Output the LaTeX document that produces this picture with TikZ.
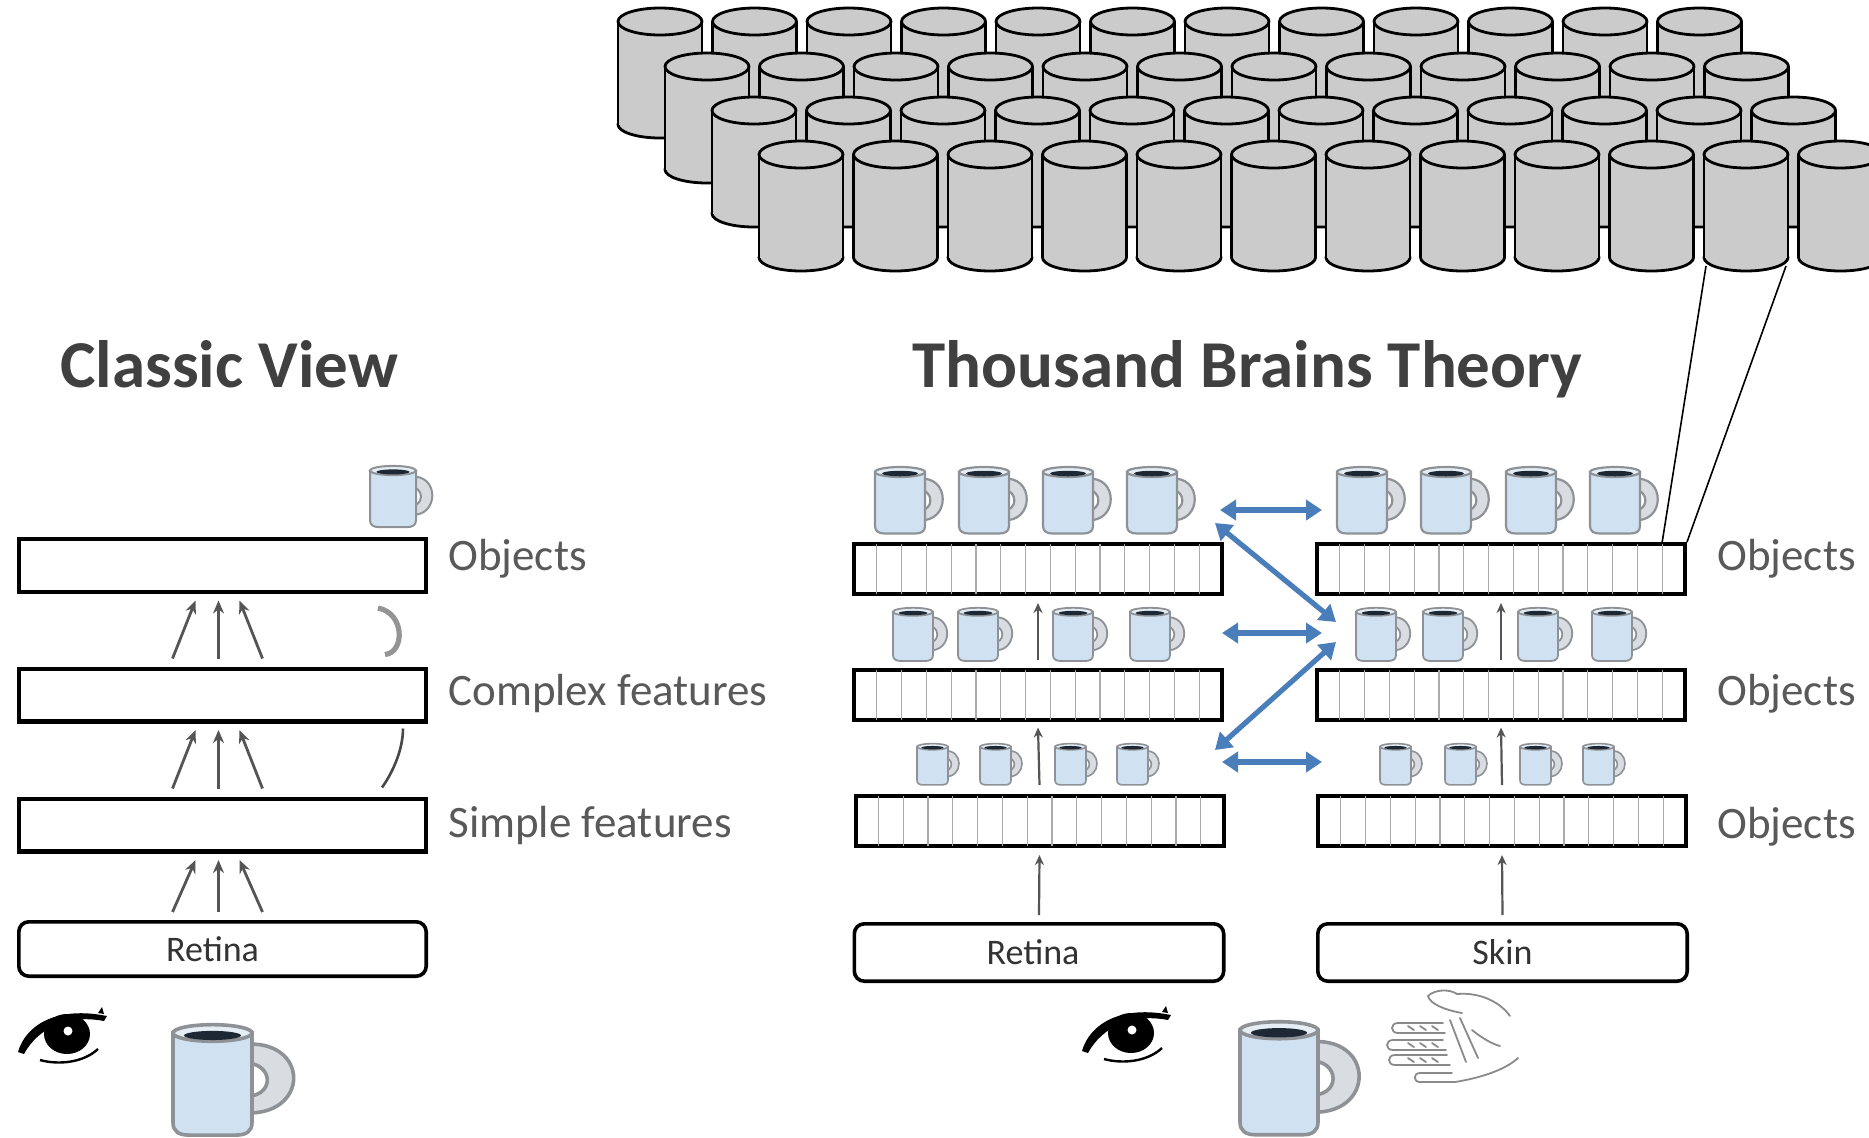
\documentclass[tikz,border=0pt]{standalone}
\usepackage{fontspec}
\setmainfont{Carlito}
\usetikzlibrary{arrows.meta,calc}

\definecolor{titlegray}{HTML}{404040}
\definecolor{labelgray}{HTML}{595959}
\definecolor{linkblue}{HTML}{4A7EBB}
\definecolor{cylfill}{HTML}{CBCBCB}
\definecolor{mugbody}{HTML}{D0E2F1}
\definecolor{mugline}{HTML}{8E9296}
\definecolor{handlefill}{HTML}{D9DDE2}
\definecolor{rimfill}{HTML}{E6EEF5}
\definecolor{coffee}{HTML}{1E2835}
\definecolor{stripegray}{HTML}{ABABAB}
\definecolor{arrowgray}{HTML}{555555}
\definecolor{handgray}{HTML}{8A8A8A}

\tikzset{
  % #1: how far the handle's control points reach to the right
  pics/mug/.style={code={
    \filldraw[fill=handlefill, draw=mugline]
      (0.86,0.26) .. controls (#1,0.16) and (#1,1.16) .. (0.86,1.08)
      -- (0.86,0.88) .. controls ({0.5*(#1+0.86)},0.93) and ({0.5*(#1+0.86)},0.45) .. (0.86,0.48) -- cycle;
    \filldraw[fill=mugbody, draw=mugline]
      (0,0.12) -- (0,1.20) .. controls (0,1.31) and (0.08,1.35) .. (0.2,1.35)
      -- (0.8,1.35) .. controls (0.92,1.35) and (1,1.31) .. (1,1.20) -- (1,0.12) -- cycle;
    \filldraw[fill=rimfill, draw=mugline] (0.5,0.12) ellipse[x radius=0.5, y radius=0.1];
    \fill[coffee] (0.5,0.15) ellipse[x radius=0.36, y radius=0.055];
  }},
  pics/mug/.default=1.52,
  pics/eye/.style={code={
    \fill[black] (49,26) ellipse[x radius=23, y radius=20];
    \fill[black] (0,44) .. controls (8,16) and (40,-2) .. (89,8)
      -- (86,13) .. controls (50,6) and (20,20) .. (6,46) -- cycle;
    \fill[black] (80,5) -- (84,-1) -- (86,6) -- cycle;
    \fill[white] (50,23) circle[radius=4.5];
    \draw[black, line width=1.2pt] (22,52) .. controls (40,57) and (65,55) .. (80,41);
  }}
}

\begin{document}
\begin{tikzpicture}[x=0.5pt, y=-0.5pt,
  headline/.style={text=titlegray, font=\fontsize{33.5}{40}\selectfont\bfseries, inner sep=0pt, anchor=base west},
  lyrlabel/.style={text=labelgray, font=\fontsize{22.5}{27}\selectfont, inner sep=0pt, anchor=base west},
  plainlayer/.style={draw=black, line width=2.2pt, minimum width=203.3pt, minimum height=26.3pt, inner sep=0pt},
  stripelayer/.style={draw=black, line width=2pt, minimum width=184pt, minimum height=25pt, inner sep=0pt},
  sensebox/.style={draw=black, line width=1.8pt, rounded corners=5pt, inner sep=0pt,
    text=black!80, font=\fontsize{18}{22}\selectfont},
  stripe/.style={stripegray, line width=0.6pt},
  fanarrow/.style={arrowgray, line width=1.4pt, -{Stealth[length=6.5pt, width=5.5pt]}},
  uparrow/.style={arrowgray, line width=1.1pt, -{Stealth[length=5pt, width=4.5pt]}},
  linkarrow/.style={linkblue, line width=2.6pt, {Triangle[length=8pt, width=10pt]}-{Triangle[length=8pt, width=10pt]}},
  cyl/.style={draw=black, line width=1.4pt, fill=cylfill},
  zoomline/.style={black, line width=0.8pt}
]
\useasboundingbox (0,0) rectangle (1869,1137);
\fill[white] (0,0) rectangle (1869,1137);

% ---------- cortical columns, back row first ----------
\begin{scope}
  \clip (0,0) rectangle (1869,1137);
  \foreach \xs/\yt in {660/21.5, 707/66.5, 754/110.5, 801/154.5} {
    \foreach \i in {0,...,11} {
      \pgfmathsetmacro\cx{\xs+\i*94.5}
      \pgfmathsetmacro\yb{\yt+103}
      \filldraw[cyl] (\cx,\yb) ellipse[x radius=42, y radius=13.5];
      \fill[cylfill] (\cx-41.3,\yt) rectangle (\cx+41.3,\yb);
      \draw[cyl] (\cx-42,\yt) -- (\cx-42,\yb);
      \draw[cyl] (\cx+42,\yt) -- (\cx+42,\yb);
      \filldraw[cyl] (\cx,\yt) ellipse[x radius=42, y radius=13.5];
    }
  }
\end{scope}
\coordinate (colL) at (1706,266);
\coordinate (colR) at (1786,266);

% ---------- titles ----------
\node[headline] (tclassic) at (60,387) {Classic View};
\node[headline] (ttbt) at (912,387) {Thousand Brains Theory};

% ---------- classic view ----------
\node[plainlayer] (cvO) at (222.5,565.5) {};
\node[plainlayer] (cvC) at (222.5,695) {};
\node[plainlayer] (cvS) at (222.5,825) {};
\node[sensebox, minimum width=203.7pt, minimum height=27.2pt] (cvR) at (222.5,949) {\hspace*{-10pt}Retina};

\node[lyrlabel] (lbO) at (448,570) {Objects};
\node[lyrlabel] (lbC) at (448,705) {Complex features};
\node[lyrlabel] (lbS) at (448,837) {Simple features};

\foreach \lo/\hi in {cvC/cvO, cvS/cvC, cvR/cvS} {
  \draw[fanarrow] ($(\lo.north)+(-50,-8)$) -- ($(\hi.south)+(-27,6.5)$);
  \draw[fanarrow] ($(\lo.north)+(-4,-8)$) -- ($(\hi.south)+(-4,6.5)$);
  \draw[fanarrow] ($(\lo.north)+(40,-8)$) -- ($(\hi.south)+(17,6.5)$);
}

% feedback arcs at the right end of the stack
\draw[black!42, line width=2.6pt] ($(cvO.south east)+(-50,14)$)
  .. controls +(27,5) and +(20,-2) .. ($(cvC.north east)+(-43,-12)$);
\draw[black!72, line width=1.3pt] ($(cvC.south east)+(-25,5)$)
  .. controls +(0,22) and +(10,-14) .. ($(cvS.north east)+(-46,-9)$);

\pic[scale=46, line width=1pt] at (370,465) {mug};
\pic at (18,1008) {eye};
\pic[xscale=79, yscale=83, line width=1.8pt] at (173,1023) {mug=1.75};

% ---------- thousand brains theory ----------
\node[stripelayer] (lO) at (1038,569) {};
\node[stripelayer] (lM) at (1038,694.5) {};
\node[stripelayer] (lB) at (1039.5,821) {};
\node[stripelayer] (rO) at (1501,569) {};
\node[stripelayer] (rM) at (1501,694.5) {};
\node[stripelayer] (rB) at (1502,821) {};
\foreach \n in {lO,lM,lB,rO,rM,rB} {
  \foreach \k in {1,...,14} {
    \draw[stripe] ($(\n.south west)!\k/15!(\n.south east)+(0,-2)$) -- ($(\n.north west)!\k/15!(\n.north east)+(0,2)$);
  }
}
\node[sensebox, minimum width=184.7pt, minimum height=28.7pt] (ret) at (1039,952.5) {\hspace*{-6pt}Retina};
\node[sensebox, minimum width=184.7pt, minimum height=28.7pt] (skin) at (1502.5,952.5) {Skin};

\node[lyrlabel] (lbR1) at (1717,570) {Objects};
\node[lyrlabel] (lbR2) at (1717,705) {Objects};
\node[lyrlabel] (lbR3) at (1717,838) {Objects};

% feedforward arrows
\draw[uparrow] ($(ret.north)+(0,-7)$) -- ($(lB.south)+(0,7)$);
\draw[uparrow] ($(lB.north)+(0,-9)$) -- ($(lM.south)+(0,6)$);
\draw[uparrow] ($(lM.north)+(0,-8)$) -- ($(lO.south)+(0,7)$);
\draw[uparrow] ($(skin.north)+(0,-7)$) -- ($(rB.south)+(0,7)$);
\draw[uparrow] ($(rB.north)+(0,-9)$) -- ($(rM.south)+(0,6)$);
\draw[uparrow] ($(rM.north)+(0,-8)$) -- ($(rO.south)+(0,7)$);

% object hypotheses above each layer
\foreach \x in {875,959,1043,1127,1337,1421,1506,1590}
  \pic[scale=50, line width=1.1pt] at (\x,466) {mug};
\foreach \x in {893,958,1053,1130,1356,1423,1518,1592}
  \pic[scale=40, line width=0.9pt] at (\x,607) {mug};
\foreach \x in {917,980,1055,1117,1380,1445,1520,1583}
  \pic[scale=31, line width=0.8pt] at (\x,743) {mug};

% lateral voting links
\coordinate (a1) at (1220,510);  \coordinate (b1) at (1322,510);
\coordinate (a2) at (1222,633);  \coordinate (b2) at (1322,633);
\coordinate (a3) at (1222,762);  \coordinate (b3) at (1322,762);
\coordinate (d1) at (1215,523);  \coordinate (e1) at (1336,622);
\coordinate (d2) at (1215,750);  \coordinate (e2) at (1336,642);
\draw[linkarrow] (a1) -- (b1);
\draw[linkarrow] (a2) -- (b2);
\draw[linkarrow] (a3) -- (b3);
\draw[linkarrow] (d1) -- (e1);
\draw[linkarrow] (d2) -- (e2);

% one column of the layer, magnified above
\draw[zoomline] (colL) -- ($(rO.north west)!14/15!(rO.north east)$);
\draw[zoomline] (colR) -- (rO.north east);

\pic at (1082,1007) {eye};
\pic[xscale=78, yscale=85, line width=1.8pt] at (1240,1020) {mug=1.75};

% hand touching the cup
\begin{scope}[handgray, line width=0.9pt, line cap=round]
  \draw (1428,996) .. controls (1435,989) and (1450,989) .. (1457,994)
        .. controls (1480,992) and (1500,1002) .. (1510,1016);
  \draw (1428,996) .. controls (1430,1004) and (1445,1010) .. (1462,1013);
  \draw (1443,1023) -- (1398,1023) .. controls (1390,1023) and (1390,1033) .. (1398,1033) -- (1445,1033);
  \draw (1443,1040) -- (1393,1040) .. controls (1385,1040) and (1385,1050) .. (1393,1050) -- (1446,1050);
  \draw (1447,1055) -- (1395,1055) .. controls (1387,1055) and (1387,1065) .. (1395,1065) -- (1450,1065);
  \draw (1452,1073) -- (1420,1073) .. controls (1413,1073) and (1413,1082) .. (1420,1082) -- (1455,1082);
  \draw (1455,1082) .. controls (1480,1078) and (1505,1070) .. (1518,1058);
  \draw (1450,1020) -- (1466,1062);
  \draw (1460,1018) -- (1478,1058);
  \draw (1472,1030) .. controls (1482,1038) and (1492,1044) .. (1500,1046);
  \foreach \y in {1028,1045,1060} {
    \draw (1408,\y-2) -- (1414,\y+2);
    \draw (1420,\y-2) -- (1426,\y+2);
    \draw (1432,\y-2) -- (1438,\y+2);
  }
\end{scope}
\end{tikzpicture}
\end{document}
